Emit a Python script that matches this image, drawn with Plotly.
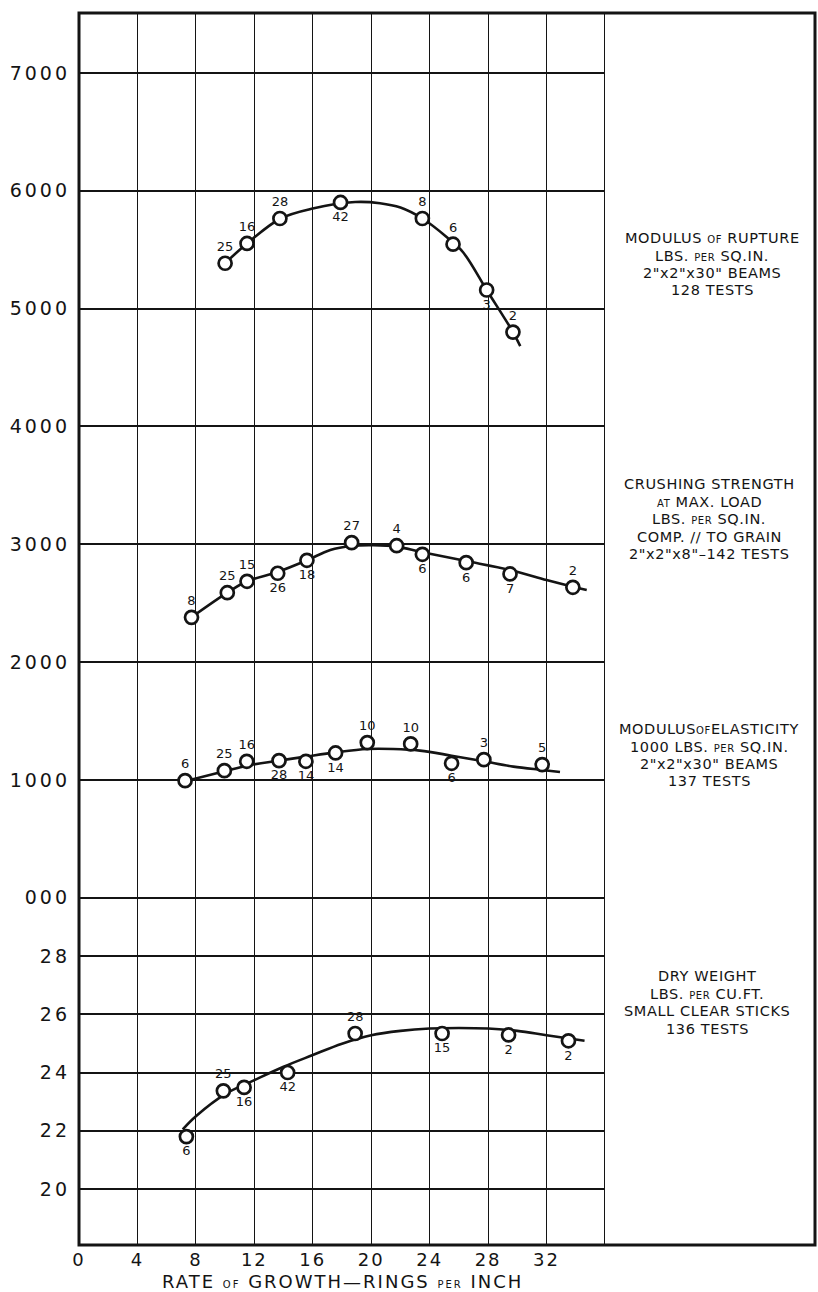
import plotly.graph_objects as go

# ---------------- data ----------------
# Modulus of rupture, lbs per sq.in.
rupture_x = [10.0, 11.5, 13.75, 17.9, 23.5, 25.6, 27.9, 29.7]
rupture_y = [5385, 5553, 5765, 5901, 5765, 5547, 5158, 4801]
rupture_n = ["25", "16", "28", "42", "8", "6", "3", "2"]
rupture_curve_x = [10.0, 11.5, 13.8, 16.0, 18.9, 20.6, 22.0, 23.5, 25.2, 26.3, 27.9, 29.7, 30.2]
rupture_curve_y = [5385, 5553, 5765, 5850, 5905, 5895, 5858, 5765, 5604, 5476, 5158, 4801, 4682]

# Crushing strength at max. load, lbs per sq.in.
crush_x = [7.7, 10.15, 11.5, 13.6, 15.6, 18.66, 21.74, 23.5, 26.5, 29.5, 33.8]
crush_y = [2380, 2589, 2686, 2754, 2864, 3014, 2988, 2915, 2844, 2748, 2635]
crush_n = ["8", "25", "15", "26", "18", "27", "4", "6", "6", "7", "2"]
crush_curve_x = [7.7, 10.15, 11.5, 13.6, 15.6, 17.2, 18.66, 20.15, 21.74, 23.5, 26.5, 29.5, 32.0, 33.8, 34.75]
crush_curve_y = [2380, 2589, 2686, 2765, 2864, 2952, 2986, 2992, 2980, 2932, 2858, 2782, 2697, 2640, 2612]

# Modulus of elasticity, 1000 lbs per sq.in.
elast_x = [7.26, 9.95, 11.48, 13.69, 15.53, 17.56, 19.73, 22.7, 25.5, 27.71, 31.7]
elast_y = [994, 1079, 1158, 1164, 1158, 1229, 1317, 1306, 1141, 1172, 1130]
elast_n = ["6", "25", "16", "28", "14", "14", "10", "10", "6", "3", "5"]
elast_curve_x = [7.26, 9.95, 11.48, 13.69, 15.53, 17.56, 19.73, 21.5, 23.34, 25.5, 27.71, 29.73, 31.7, 32.92]
elast_curve_y = [988, 1073, 1121, 1164, 1198, 1234, 1263, 1263, 1249, 1206, 1158, 1113, 1085, 1068]

# Dry weight, lbs per cu.ft.
dry_x = [7.35, 9.88, 11.3, 14.28, 18.9, 24.85, 29.4, 33.5]
dry_y = [21.8, 23.37, 23.49, 24.0, 25.34, 25.34, 25.29, 25.09]
dry_n = ["6", "25", "16", "42", "28", "15", "2", "2"]
dry_curve_x = [7.1, 8, 10, 12, 14, 16, 18, 20, 22, 24, 26, 28, 30, 32, 34.6]
dry_curve_y = [22.05, 22.5, 23.26, 23.74, 24.2, 24.6, 24.99, 25.28, 25.43, 25.51, 25.53, 25.51, 25.43, 25.28, 25.09]

# axis ticks
x_ticks = [0, 4, 8, 12, 16, 20, 24, 28, 32, 36]
x_tick_text = ["0", "4", "8", "12", "16", "20", "24", "28", "32", ""]
psi_ticks = [0, 1000, 2000, 3000, 4000, 5000, 6000, 7000]
psi_tick_text = ["000", "1000", "2000", "3000", "4000", "5000", "6000", "7000"]
wt_ticks = [20, 22, 24, 26, 28]
wt_tick_text = ["20", "22", "24", "26", "28"]

# label placement (style)
rupture_pos = ["top center", "top center", "top center", "bottom center", "top center",
               "top center", "bottom center", "top center"]
crush_pos = ["top center", "top center", "top center", "bottom center", "bottom center",
             "top center", "top center", "bottom center", "bottom center", "bottom center", "top center"]
elast_pos = ["top center", "top center", "top center", "bottom center", "bottom center",
             "bottom center", "top center", "top center", "bottom center", "top center", "top center"]
dry_pos = ["bottom center", "top center", "bottom center", "bottom center", "top center",
           "bottom center", "bottom center", "bottom center"]

# ---------------- geometry ----------------
W, H = 818, 1292
L, R, T, B = 79, 605, 13, 1245
PSI_RANGE = [-2947, 7509]
PSI_PER_LB = 247.2
WT_RANGE = [30 + PSI_RANGE[0] / PSI_PER_LB, 30 + PSI_RANGE[1] / PSI_PER_LB]

INK = "#141414"
FONT = "DejaVu Sans"


def px(xp):
    return (xp - L) / (R - L)


def py(yp):
    return (B - yp) / (B - T)


def spaced(s, sp):
    return "<span style='letter-spacing:%.1fpx'>%s</span>" % (sp, s)


def sm(s, size=10):
    return "<span style='font-size:%dpx'>%s</span>" % (size, s)


fig = go.Figure()


def add_series(cx, cy, x, y, n, pos, yaxis):
    fig.add_trace(go.Scatter(x=cx, y=cy, mode="lines", yaxis=yaxis,
                             line=dict(color=INK, width=2.6, shape="spline", smoothing=1.0),
                             hoverinfo="skip", showlegend=False))
    fig.add_trace(go.Scatter(x=x, y=y, mode="markers+text", yaxis=yaxis,
                             text=n, textposition=pos,
                             textfont=dict(family=FONT, size=13, color=INK),
                             marker=dict(symbol="circle", size=13, color="white",
                                         line=dict(color=INK, width=2.7)),
                             showlegend=False))


add_series(rupture_curve_x, rupture_curve_y, rupture_x, rupture_y, rupture_n, rupture_pos, "y")
add_series(crush_curve_x, crush_curve_y, crush_x, crush_y, crush_n, crush_pos, "y")
add_series(elast_curve_x, elast_curve_y, elast_x, elast_y, elast_n, elast_pos, "y")
add_series(dry_curve_x, dry_curve_y, dry_x, dry_y, dry_n, dry_pos, "y2")

tickfont = dict(family=FONT, size=19, color=INK)

fig.update_layout(
    width=W, height=H,
    margin=dict(l=L, r=W - R, t=T, b=H - B, autoexpand=False),
    paper_bgcolor="white", plot_bgcolor="white",
    showlegend=False,
    xaxis=dict(range=[0, 36], tickvals=x_ticks,
               ticktext=[spaced(t, 2) for t in x_tick_text],
               showgrid=True, gridcolor=INK, gridwidth=1.4, zeroline=False,
               showline=False, ticks="", tickfont=dict(family=FONT, size=18, color=INK),
               ticklabelstandoff=2),
    yaxis=dict(range=PSI_RANGE, tickvals=psi_ticks,
               ticktext=[spaced(t, 3) for t in psi_tick_text],
               showgrid=True, gridcolor=INK, gridwidth=1.6, zeroline=False,
               showline=False, ticks="", tickfont=tickfont, ticklabelstandoff=8),
    yaxis2=dict(range=WT_RANGE, overlaying="y", side="left", anchor="x",
                tickvals=wt_ticks, ticktext=[spaced(t, 3) for t in wt_tick_text],
                showgrid=True, gridcolor=INK, gridwidth=1.6, zeroline=False,
                showline=False, ticks="", tickfont=tickfont, ticklabelstandoff=8),
)

# frame and right-hand panel border
fig.add_shape(type="rect", xref="paper", yref="paper", x0=0, x1=px(815), y0=0, y1=1,
              line=dict(color=INK, width=3))
fig.add_shape(type="line", xref="x", yref="paper", x0=36, x1=36, y0=0, y1=1,
              line=dict(color=INK, width=2))

# x-axis title
fig.add_annotation(xref="paper", yref="paper", x=0.5, y=py(1281), yanchor="middle",
                   showarrow=False,
                   text=spaced("RATE " + sm("OF", 10) + " GROWTH—RINGS " + sm("PER", 10) + " INCH", 2),
                   font=dict(family=FONT, size=18, color=INK))

# right-hand descriptive labels (one annotation per lettered line)
labels = [
    (712, 238, "MODULUS " + sm("OF") + " RUPTURE"),
    (712, 255.5, "LBS. " + sm("PER") + " SQ.IN."),
    (712, 273, "2\"x2\"x30\" BEAMS"),
    (712, 290.5, "128 TESTS"),
    (709, 484, "CRUSHING STRENGTH"),
    (709, 501.5, sm("AT") + " MAX. LOAD"),
    (709, 519, "LBS. " + sm("PER") + " SQ.IN."),
    (709, 536.5, "COMP. // TO GRAIN"),
    (709, 554, "2\"x2\"x8\"–142 TESTS"),
    (709, 729, "MODULUS" + sm("OF") + "ELASTICITY"),
    (709, 746.5, "1000 LBS. " + sm("PER") + " SQ.IN."),
    (709, 764, "2\"x2\"x30\" BEAMS"),
    (709, 781.5, "137 TESTS"),
    (707, 976, "DRY WEIGHT"),
    (707, 993.5, "LBS. " + sm("PER") + " CU.FT."),
    (707, 1011, "SMALL CLEAR STICKS"),
    (707, 1028.5, "136 TESTS"),
]
for xp_, yp_, txt in labels:
    fig.add_annotation(xref="paper", yref="paper", x=px(xp_), y=py(yp_),
                       xanchor="center", yanchor="middle", showarrow=False, align="center",
                       text=spaced(txt, 0.6), font=dict(family=FONT, size=14.5, color=INK))

fig.write_html("out.html", config={"displayModeBar": False},
               post_script="document.body.style.margin='0';")
